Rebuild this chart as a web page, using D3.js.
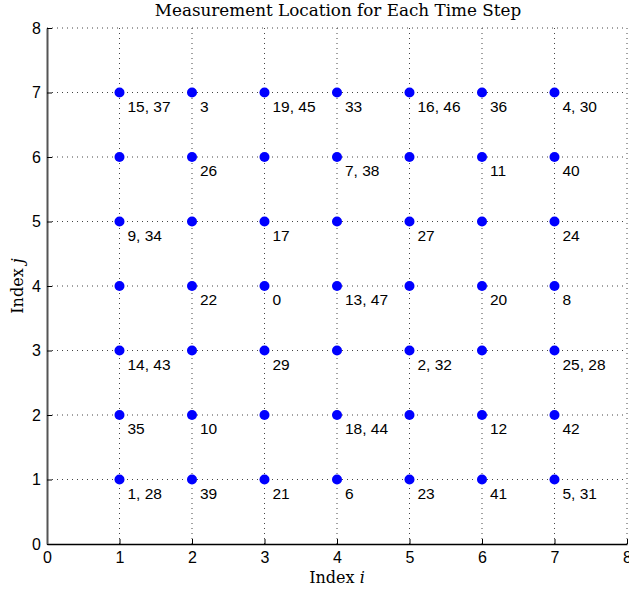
<!DOCTYPE html>
<html>
<head>
<meta charset="utf-8">
<script src="https://cdn.jsdelivr.net/npm/d3@7"></script>
<style>
    body { margin: 0; background: #fff; }
    text { font-family: 'Liberation Sans', Arial, sans-serif; }
    .serif { font-family: 'DejaVu Serif', 'Liberation Serif', serif; }
</style>
</head>
<body>
<svg id="chart" width="629" height="592"></svg>
<script>
// Данные: индекс i, индекс j и номер шага(ов) измерения
const pointI = [1, 2, 3, 4, 5, 6, 7,  1, 2, 3, 4, 5, 6, 7,  1, 2, 3, 4, 5, 6, 7,
                1, 2, 3, 4, 5, 6, 7,  1, 2, 3, 4, 5, 6, 7,  1, 2, 3, 4, 5, 6, 7,
                1, 2, 3, 4, 5, 6, 7]
const pointJ = [7, 7, 7, 7, 7, 7, 7,  6, 6, 6, 6, 6, 6, 6,  5, 5, 5, 5, 5, 5, 5,
                4, 4, 4, 4, 4, 4, 4,  3, 3, 3, 3, 3, 3, 3,  2, 2, 2, 2, 2, 2, 2,
                1, 1, 1, 1, 1, 1, 1]
const pointLabels = [
    '15, 37', '3', '19, 45', '33', '16, 46', '36', '4, 30',
    '', '26', '', '7, 38', '', '11', '40',
    '9, 34', '', '17', '', '27', '', '24',
    '', '22', '0', '13, 47', '', '20', '8',
    '14, 43', '', '29', '', '2, 32', '', '25, 28',
    '35', '10', '', '18, 44', '', '12', '42',
    '1, 28', '39', '21', '6', '23', '41', '5, 31',
]
const xTicks = [0, 1, 2, 3, 4, 5, 6, 7, 8]
const yTicks = [0, 1, 2, 3, 4, 5, 6, 7, 8]

const points = pointI.map((i, k) => ({ i, j: pointJ[k], label: pointLabels[k] }))

const svg = d3.select('#chart')
const plotLeft = 47, plotRight = 627, plotTop = 28, plotBottom = 544

const x = d3.scaleLinear().domain([0, 8]).range([plotLeft, plotRight])
const y = d3.scaleLinear().domain([0, 8]).range([plotBottom, plotTop])

// Сетка пунктиром
const grid = svg.append('g')
grid.selectAll('line.gx')
    .data(xTicks.slice(1))
    .join('line')
    .attr('class', 'gx')
    .attr('x1', d => x(d)).attr('x2', d => x(d))
    .attr('y1', plotTop).attr('y2', plotBottom)
    .attr('stroke', '#444').attr('stroke-width', 1)
    .attr('stroke-dasharray', '1,4')
grid.selectAll('line.gy')
    .data(yTicks.slice(1))
    .join('line')
    .attr('class', 'gy')
    .attr('x1', plotLeft).attr('x2', plotRight)
    .attr('y1', d => y(d)).attr('y2', d => y(d))
    .attr('stroke', '#444').attr('stroke-width', 1)
    .attr('stroke-dasharray', '1,4')

// Оси (метки внутрь)
const xAxis = d3.axisBottom(x).tickValues(xTicks).tickSizeInner(-5).tickSizeOuter(0).tickPadding(8)
const yAxis = d3.axisLeft(y).tickValues(yTicks).tickSizeInner(-5).tickSizeOuter(0).tickPadding(10)

const gx = svg.append('g').attr('transform', `translate(0,${plotBottom})`).call(xAxis)
const gy = svg.append('g').attr('transform', `translate(${plotLeft},0)`).call(yAxis)
gx.select('.domain').attr('stroke', '#000').attr('stroke-width', 1.5)
gy.select('.domain').attr('stroke', '#555').attr('stroke-width', 2)
svg.selectAll('.tick line').attr('stroke', '#000')
svg.selectAll('.tick text')
    .attr('font-family', "'Liberation Sans', Arial, sans-serif")
    .attr('font-size', 16).attr('fill', '#000')
gx.selectAll('.tick text').attr('dy', '0.71em')
gy.selectAll('.tick text').attr('dx', '4')

// Точки
svg.append('g').selectAll('circle')
    .data(points)
    .join('circle')
    .attr('cx', d => x(d.i))
    .attr('cy', d => y(d.j))
    .attr('r', 5)
    .attr('fill', '#0000ff')

// Подписи шагов
svg.append('g').selectAll('text')
    .data(points.filter(d => d.label))
    .join('text')
    .attr('x', d => x(d.i) + 8)
    .attr('y', d => y(d.j) + 19)
    .attr('font-size', 15.5)
    .text(d => d.label)

// Заголовок и подписи осей
svg.append('text').attr('class', 'serif')
    .attr('x', 338).attr('y', 16)
    .attr('text-anchor', 'middle').attr('font-size', 16.8)
    .text('Measurement Location for Each Time Step')

const xl = svg.append('text').attr('class', 'serif')
    .attr('x', 337).attr('y', 583)
    .attr('text-anchor', 'middle').attr('font-size', 16)
xl.append('tspan').text('Index ')
xl.append('tspan').attr('font-style', 'italic').text('i')

const yl = svg.append('text').attr('class', 'serif')
    .attr('transform', 'translate(23,286) rotate(-90)')
    .attr('text-anchor', 'middle').attr('font-size', 16)
yl.append('tspan').text('Index ')
yl.append('tspan').attr('font-style', 'italic').text('j')
</script>
</body>
</html>
